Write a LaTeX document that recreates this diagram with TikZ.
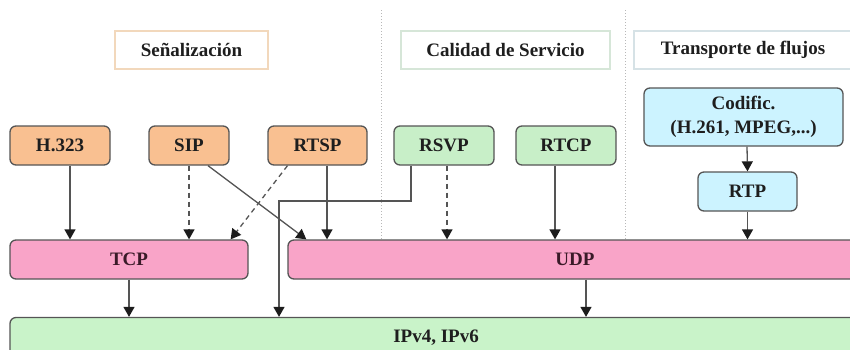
\documentclass[tikz,border=0pt]{standalone}
\usepackage{fontspec}
\setmainfont{Liberation Serif}
\usetikzlibrary{arrows.meta}

\definecolor{borde}{HTML}{555555}
\definecolor{punta}{HTML}{1C1C1C}
\definecolor{naranja}{HTML}{F9C091}
\definecolor{verde}{HTML}{C8EFC8}
\definecolor{verdeip}{HTML}{C9F3C9}
\definecolor{celeste}{HTML}{CCF3FF}
\definecolor{rosa}{HTML}{F9A4C8}
\definecolor{texto}{HTML}{1E1E1E}
\definecolor{textorosa}{HTML}{3A1A28}
\definecolor{bordenar}{HTML}{F2D8BC}
\definecolor{bordever}{HTML}{D6E6D8}
\definecolor{bordeazu}{HTML}{D6E2E6}
\definecolor{separa}{HTML}{B8B8B8}

\tikzset{
  proto/.style={draw=borde, line width=1.3pt, rounded corners=6pt,
    minimum height=39pt, inner sep=0pt, text=texto,
    font=\fontsize{19}{24}\selectfont\bfseries, align=center},
  capa/.style={proto, fill=rosa, text=textorosa},
  titulo/.style={draw=#1, line width=1.3pt, fill=white, minimum height=38pt,
    inner sep=0pt, text=texto, font=\fontsize{19}{24}\selectfont\bfseries},
  flecha/.style={draw=borde, line width=1.3pt,
    -{Triangle[width=11pt,length=10pt,color=punta]}},
  discont/.style={flecha, dash pattern=on 5pt off 4pt},
  separador/.style={draw=separa, line width=1pt, dotted}
}

\begin{document}
\begin{tikzpicture}[x=1pt, y=-1pt]
  \useasboundingbox (0,0) rectangle (850,349);
  \begin{scope}
  \clip (0,0) rectangle (850,349);

  % transport and network layers
  \node[capa, minimum width=238pt] (tcp) at (129,259.5) {TCP};
  \node[capa, minimum width=574pt] (udp) at (575,259.5) {UDP};
  \node[proto, fill=verdeip, minimum width=852pt, minimum height=40pt] (ip) at (436,337.5) {IPv4, IPv6};

  % column separators
  \coordinate (s1top) at (381,10);
  \coordinate (s2top) at (625,10);
  \draw[separador] (s1top) -- (s1top |- udp.north);
  \draw[separador] (s2top) -- (s2top |- udp.north);

  % column titles
  \node[titulo=bordenar, minimum width=153pt] (senal) at (191.5,50) {Señalización};
  \node[titulo=bordever, minimum width=209pt] (calidad) at (505.5,50) {Calidad de Servicio};
  \node[titulo=bordeazu, minimum width=218pt] (transp) at (743,50) {Transporte de flujos};

  % application protocols
  \node[proto, fill=naranja, minimum width=100pt] (h323) at (60,145.5) {H.323};
  \node[proto, fill=naranja, minimum width=80pt] (sip) at (189,145.5) {SIP};
  \node[proto, fill=naranja, minimum width=99pt] (rtsp) at (317.5,145.5) {RTSP};
  \node[proto, fill=verde, minimum width=100pt] (rsvp) at (444,145.5) {RSVP};
  \node[proto, fill=verde, minimum width=100pt] (rtcp) at (566,145.5) {RTCP};
  \node[proto, fill=celeste, minimum width=199pt, minimum height=58pt] (codif) at (743.5,117) {Codific.\\(H.261, MPEG,...)};
  \node[proto, fill=celeste, minimum width=99pt] (rtp) at (747.5,191.5) {RTP};

  % connectors
  \draw[flecha] ([xshift=10pt]h323.south) -- ([xshift=10pt]h323.south |- tcp.north);
  \draw[discont] (sip.south) -- (sip.south |- tcp.north);
  \draw[flecha] ([xshift=19pt]sip.south) -- ([xshift=19pt]udp.north west);
  \draw[discont] ([xshift=-30pt]rtsp.south) -- ([xshift=-18pt]tcp.north east);
  \draw[flecha] ([xshift=9.5pt]rtsp.south) -- ([xshift=9.5pt]rtsp.south |- udp.north);
  \draw[discont] ([xshift=3pt]rsvp.south) -- ([xshift=3pt]rsvp.south |- udp.north);
  \coordinate (rodeo) at (279,201);
  \draw[flecha] ([xshift=-33pt]rsvp.south) |- (rodeo) -- (rodeo |- ip.north);
  \draw[flecha] ([xshift=-11pt]rtcp.south) -- ([xshift=-11pt]rtcp.south |- udp.north);
  \draw[flecha] ([xshift=3.5pt]codif.south) -- (rtp.north);
  \draw[flecha] (rtp.south) -- (rtp.south |- udp.north);
  \draw[flecha] (tcp.south) -- (tcp.south |- ip.north);
  \draw[flecha] ([xshift=11pt]udp.south) -- ([xshift=11pt]udp.south |- ip.north);
  \end{scope}
\end{tikzpicture}
\end{document}
